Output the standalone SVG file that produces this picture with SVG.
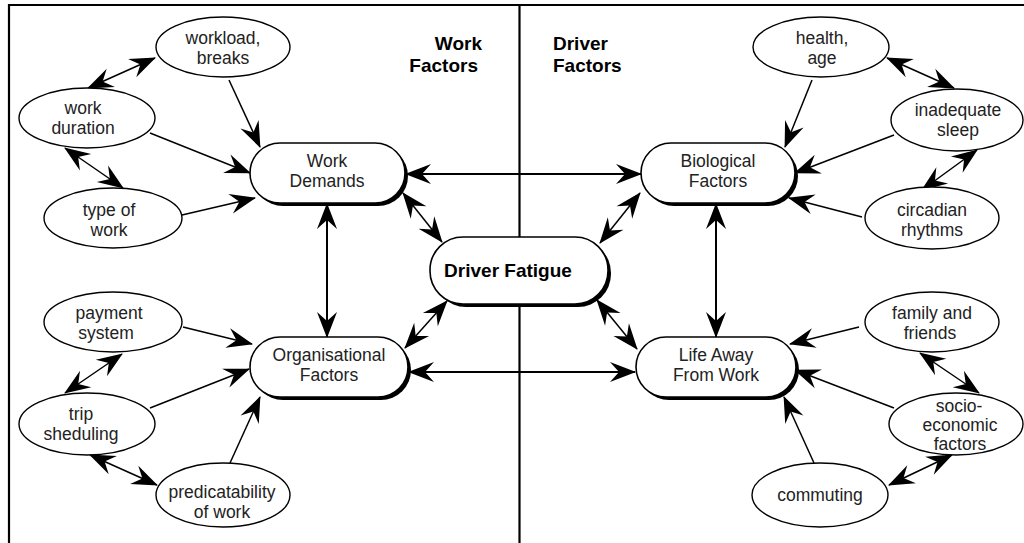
<svg xmlns="http://www.w3.org/2000/svg" width="1024" height="543" viewBox="0 0 1024 543">
  <style>
    .frame { stroke: #000; stroke-width: 2.2; fill: none; }
    .oval { fill: #fff; stroke: #000; stroke-width: 1.4; }
    .pill { fill: #fff; stroke: #000; stroke-width: 1.6; }
    .shadow { fill: #000; }
    .t { font-family: "Liberation Sans", Arial, sans-serif; font-size: 17.5px; fill: #222; text-anchor: middle; }
    .b { font-family: "Liberation Sans", Arial, sans-serif; font-size: 19px; font-weight: bold; fill: #000; }
    .c { stroke: #000; stroke-width: 1.5; fill: none; }
    .c2 { stroke: #000; stroke-width: 2; fill: none; }
    .one { marker-end: url(#head); }
    .two { marker-start: url(#head); marker-end: url(#head); }
  </style>
  <defs>
    <marker id="head" viewBox="-28 -12 30 24" refX="0" refY="0" markerWidth="30" markerHeight="24" markerUnits="userSpaceOnUse" orient="auto-start-reverse">
      <path d="M1,0 L-25,-10 L-16,0 L-25,10 Z" fill="#000"/>
    </marker>
  </defs>
  <rect width="1024" height="543" fill="#fff"/>

  <!-- page frame and the divider between the two halves -->
  <g id="frame">
    <path class="frame" d="M9,543 V5 H1024"/>
    <line class="frame" x1="519.5" y1="5" x2="519.5" y2="543"/>
  </g>

  <!-- section headings -->
  <g id="headings">
    <text class="b" x="482" y="50" text-anchor="end">Work</text>
    <text class="b" x="478" y="72" text-anchor="end">Factors</text>
    <text class="b" x="553" y="50">Driver</text>
    <text class="b" x="553" y="72">Factors</text>
  </g>

  <!-- connectors -->
  <g id="connectors">
    <!-- work side -->
    <line class="c two" x1="88" y1="88" x2="155" y2="58"/>
    <line class="c one" x1="229" y1="80" x2="260" y2="147"/>
    <line class="c one" x1="150" y1="133" x2="250" y2="173"/>
    <line class="c two" x1="65" y1="148" x2="123" y2="188"/>
    <line class="c one" x1="182" y1="215" x2="255" y2="198"/>
    <line class="c one" x1="183" y1="327" x2="252" y2="344"/>
    <line class="c one" x1="150" y1="408" x2="249" y2="369"/>
    <line class="c one" x1="230" y1="463" x2="260" y2="397"/>
    <line class="c two" x1="122" y1="354" x2="65" y2="393"/>
    <line class="c two" x1="90" y1="455" x2="157" y2="485"/>
    <!-- driver side -->
    <line class="c one" x1="812" y1="80" x2="785" y2="147"/>
    <line class="c one" x1="894" y1="135" x2="795" y2="173"/>
    <line class="c two" x1="887" y1="58" x2="954" y2="88"/>
    <line class="c two" x1="977" y1="150" x2="922" y2="190"/>
    <line class="c one" x1="862" y1="217" x2="789" y2="198"/>
    <line class="c one" x1="859" y1="327" x2="790" y2="344"/>
    <line class="c one" x1="894" y1="408" x2="795" y2="370"/>
    <line class="c one" x1="814" y1="463" x2="784" y2="397"/>
    <line class="c two" x1="920" y1="353" x2="979" y2="393"/>
    <line class="c two" x1="952" y1="455" x2="889" y2="485"/>
    <!-- between the main factors -->
    <line class="c2 two" x1="406" y1="174" x2="641" y2="174"/>
    <line class="c2 two" x1="409" y1="372" x2="635" y2="372"/>
    <line class="c2 two" x1="327" y1="204" x2="327" y2="337"/>
    <line class="c2 two" x1="716" y1="204" x2="716" y2="337"/>
    <line class="c two" x1="403" y1="193" x2="442" y2="242"/>
    <line class="c two" x1="640" y1="193" x2="600" y2="243"/>
    <line class="c two" x1="405" y1="348" x2="447" y2="301"/>
    <line class="c two" x1="597" y1="300" x2="637" y2="349"/>
  </g>

  <!-- main factors -->
  <g id="work-demands">
    <rect class="shadow" x="253" y="146" width="155" height="60" rx="30"/>
    <rect class="pill" x="250" y="143" width="155" height="60" rx="30"/>
    <text class="t" x="327" y="167">Work</text>
    <text class="t" x="327" y="187">Demands</text>
  </g>
  <g id="organisational-factors">
    <rect class="shadow" x="253" y="340" width="158" height="60" rx="30"/>
    <rect class="pill" x="250" y="337" width="158" height="60" rx="30"/>
    <text class="t" x="329" y="361">Organisational</text>
    <text class="t" x="329" y="381">Factors</text>
  </g>
  <g id="biological-factors">
    <rect class="shadow" x="644" y="146" width="154" height="60" rx="30"/>
    <rect class="pill" x="641" y="143" width="154" height="60" rx="30"/>
    <text class="t" x="718" y="167">Biological</text>
    <text class="t" x="718" y="187">Factors</text>
  </g>
  <g id="life-away-from-work">
    <rect class="shadow" x="639" y="340" width="160" height="60" rx="30"/>
    <rect class="pill" x="636" y="337" width="160" height="60" rx="30"/>
    <text class="t" x="716" y="361">Life Away</text>
    <text class="t" x="716" y="381">From Work</text>
  </g>
  <g id="driver-fatigue">
    <rect class="shadow" x="433" y="240" width="178" height="67" rx="33"/>
    <rect class="pill" x="430" y="237" width="178" height="67" rx="33"/>
    <text class="b" x="508" y="277" text-anchor="middle">Driver Fatigue</text>
  </g>

  <!-- work factor ovals -->
  <g id="workload-breaks">
    <ellipse class="oval" cx="223" cy="47" rx="67" ry="30"/>
    <text class="t" x="223" y="44">workload,</text>
    <text class="t" x="223" y="64">breaks</text>
  </g>
  <g id="work-duration">
    <ellipse class="oval" cx="87" cy="118" rx="68" ry="30"/>
    <text class="t" x="83" y="114">work</text>
    <text class="t" x="83" y="134">duration</text>
  </g>
  <g id="type-of-work">
    <ellipse class="oval" cx="113" cy="218" rx="69" ry="30"/>
    <text class="t" x="109" y="216">type of</text>
    <text class="t" x="109" y="236">work</text>
  </g>
  <g id="payment-system">
    <ellipse class="oval" cx="113" cy="322" rx="69" ry="30"/>
    <text class="t" x="109" y="319">payment</text>
    <text class="t" x="106" y="339">system</text>
  </g>
  <g id="trip-sheduling">
    <ellipse class="oval" cx="87" cy="424" rx="68" ry="31"/>
    <text class="t" x="81" y="420">trip</text>
    <text class="t" x="81" y="440">sheduling</text>
  </g>
  <g id="predicatability-of-work">
    <ellipse class="oval" cx="223" cy="495" rx="67" ry="32"/>
    <text class="t" x="222" y="498">predicatability</text>
    <text class="t" x="222" y="518">of work</text>
  </g>

  <!-- driver factor ovals -->
  <g id="health-age">
    <ellipse class="oval" cx="821" cy="47" rx="68" ry="30"/>
    <text class="t" x="822" y="44">health,</text>
    <text class="t" x="822" y="64">age</text>
  </g>
  <g id="inadequate-sleep">
    <ellipse class="oval" cx="957" cy="120" rx="66" ry="31"/>
    <text class="t" x="958" y="116">inadequate</text>
    <text class="t" x="958" y="136">sleep</text>
  </g>
  <g id="circadian-rhythms">
    <ellipse class="oval" cx="932" cy="218" rx="67" ry="31"/>
    <text class="t" x="932" y="216">circadian</text>
    <text class="t" x="932" y="236">rhythms</text>
  </g>
  <g id="family-and-friends">
    <ellipse class="oval" cx="932" cy="322" rx="67" ry="30"/>
    <text class="t" x="932" y="319">family and</text>
    <text class="t" x="930" y="339">friends</text>
  </g>
  <g id="socio-economic-factors">
    <ellipse class="oval" cx="956" cy="424" rx="67" ry="31"/>
    <text class="t" x="959" y="412">socio-</text>
    <text class="t" x="960" y="431">economic</text>
    <text class="t" x="960" y="450">factors</text>
  </g>
  <g id="commuting">
    <ellipse class="oval" cx="820" cy="495" rx="68" ry="32"/>
    <text class="t" x="820" y="501">commuting</text>
  </g>
</svg>
